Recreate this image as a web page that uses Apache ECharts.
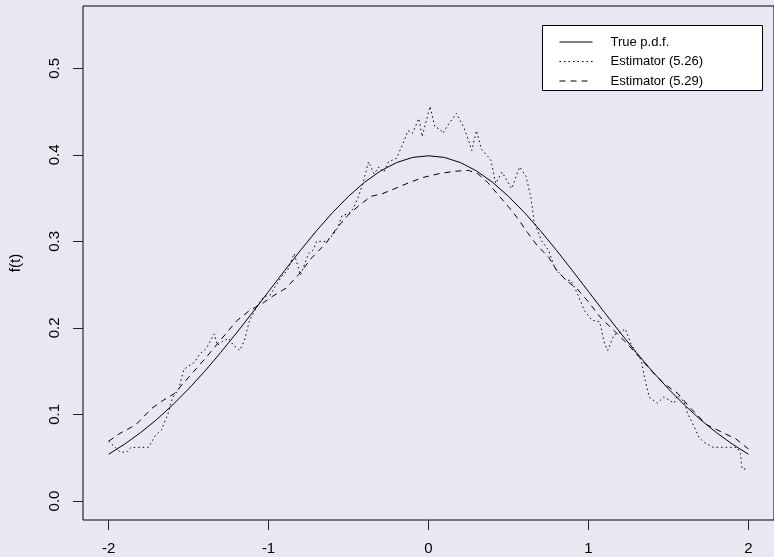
<!DOCTYPE html>
<html><head><meta charset="utf-8">
<script src="https://cdn.jsdelivr.net/npm/echarts@6/dist/echarts.min.js"></script>
<style>html,body{margin:0;padding:0;background:#e8e8f2}#c{width:774px;height:557px}</style>
</head><body><div id="c"></div>
<script>
const xTicks = [-2, -1, 0, 1, 2];
const yTicks = [0, 0.1, 0.2, 0.3, 0.4, 0.5];
const seriesNames = ['True p.d.f.', 'Estimator (5.26)', 'Estimator (5.29)'];

const tTrue = [-2.0,-1.9,-1.8,-1.7,-1.6,-1.5,-1.4,-1.3,-1.2,-1.1,-1.0,-0.9,-0.8,-0.7,-0.6,-0.5,-0.4,-0.3,-0.2,-0.1,0.0,
  0.1,0.2,0.3,0.4,0.5,0.6,0.7,0.8,0.9,1.0,1.1,1.2,1.3,1.4,1.5,1.6,1.7,1.8,1.9,2.0];
const fTrue = [0.0540,0.0656,0.0790,0.0940,0.1109,0.1295,0.1497,0.1714,0.1942,0.2179,0.2420,0.2661,0.2897,0.3123,0.3332,0.3521,0.3683,0.3814,0.3910,0.3970,0.3989,
  0.3970,0.3910,0.3814,0.3683,0.3521,0.3332,0.3123,0.2897,0.2661,0.2420,0.2179,0.1942,0.1714,0.1497,0.1295,0.1109,0.0940,0.0790,0.0656,0.0540];

const t526 = [-2.00,-1.93,-1.89,-1.86,-1.75,-1.71,-1.67,-1.63,-1.60,-1.56,-1.53,-1.49,-1.46,-1.43,-1.39,-1.34,-1.32,-1.29,-1.25,-1.22,-1.18,-1.15,-1.12,-1.07,-1.03,-0.99,
  -0.92,-0.88,-0.84,-0.80,-0.75,-0.72,-0.70,-0.64,-0.60,-0.57,-0.54,-0.50,-0.47,-0.44,-0.41,-0.375,-0.34,-0.31,-0.28,-0.25,-0.20,-0.15,-0.13,-0.10,-0.06,-0.04,0.01,
  0.04,0.07,0.09,0.12,0.175,0.22,0.25,0.27,0.30,0.33,0.39,0.42,0.46,0.52,0.57,0.61,0.64,0.66,0.705,0.75,0.79,0.82,0.86,0.89,0.93,0.975,1.02,1.07,1.10,1.12,1.16,1.20,1.23,
  1.265,1.30,1.33,1.35,1.38,1.43,1.47,1.50,1.535,1.556,1.60,1.62,1.65,1.69,1.72,1.78,1.93,1.95,1.96,2.00];
const f526 = [0.069,0.057,0.056,0.062,0.062,0.075,0.082,0.100,0.119,0.130,0.152,0.157,0.161,0.170,0.176,0.193,0.180,0.184,0.188,0.180,0.174,0.186,0.208,0.226,0.236,0.238,
  0.259,0.267,0.286,0.261,0.286,0.290,0.300,0.300,0.307,0.315,0.330,0.332,0.338,0.351,0.367,0.392,0.378,0.386,0.380,0.392,0.396,0.417,0.428,0.425,0.442,0.421,0.456,
  0.432,0.430,0.425,0.434,0.448,0.432,0.417,0.405,0.428,0.407,0.394,0.367,0.380,0.361,0.386,0.375,0.351,0.323,0.301,0.290,0.269,0.263,0.255,0.255,0.240,0.220,0.209,0.207,0.182,0.174,0.192,0.195,0.199,
  0.182,0.170,0.163,0.143,0.120,0.113,0.120,0.117,0.113,0.122,0.114,0.101,0.090,0.074,0.068,0.062,0.062,0.055,0.037,0.037];

const t529 = [-2.00,-1.93,-1.83,-1.73,-1.67,-1.59,-1.48,-1.39,-1.30,-1.20,-1.12,-1.04,-0.98,-0.89,-0.81,-0.73,-0.64,-0.57,-0.50,-0.43,-0.36,-0.29,-0.21,-0.12,-0.03,
  0.06,0.16,0.25,0.31,0.37,0.435,0.50,0.56,0.62,0.68,0.75,0.80,0.86,0.93,1.00,1.08,1.16,1.24,1.32,1.39,1.47,1.56,1.64,1.74,1.85,1.92,2.00];
const f529 = [0.069,0.078,0.088,0.107,0.115,0.124,0.147,0.166,0.186,0.208,0.220,0.228,0.236,0.246,0.262,0.281,0.298,0.316,0.331,0.342,0.352,0.355,0.361,0.368,0.374,
  0.378,0.381,0.382,0.378,0.368,0.354,0.340,0.326,0.310,0.295,0.282,0.267,0.255,0.245,0.230,0.211,0.197,0.182,0.166,0.151,0.136,0.124,0.107,0.088,0.078,0.072,0.060];

const zip = (a, b) => a.map((v, i) => [v, b[i]]);
const FONT = 'Liberation Sans, Arial, Helvetica, sans-serif';

const chart = echarts.init(document.getElementById('c'), null, {renderer: 'canvas'});
chart.setOption({
  animation: false,
  backgroundColor: '#e8e8f2',
  grid: {left: 83, top: 6, width: 694, height: 514, show: true, borderColor: '#000', borderWidth: 1, backgroundColor: 'transparent'},
  xAxis: {
    type: 'value', min: -2.16, max: 2.16,
    axisLine: {show: false, onZero: false},
    splitLine: {show: false},
    axisTick: {show: true, inside: false, length: 10, customValues: xTicks, lineStyle: {color: '#222', width: 1}},
    axisLabel: {customValues: xTicks, margin: 21, fontSize: 15, color: '#000', fontFamily: FONT, formatter: v => String(v)}
  },
  yAxis: {
    type: 'value', min: -0.022, max: 0.572,
    position: 'left',
    name: 'f(t)', nameLocation: 'middle', nameGap: 60, nameRotate: 90,
    nameTextStyle: {fontSize: 15, color: '#000', fontFamily: FONT},
    axisLine: {show: false, onZero: false},
    splitLine: {show: false},
    axisTick: {show: true, inside: false, length: 10, customValues: yTicks, lineStyle: {color: '#222', width: 1}},
    axisLabel: {customValues: yTicks, rotate: 90, margin: 21, fontSize: 15, color: '#000', fontFamily: FONT, formatter: v => v.toFixed(1)}
  },
  legend: {
    z: 10,
    orient: 'vertical', left: 559, top: 35.5,
    itemWidth: 33, itemHeight: 14, itemGap: 6.5, padding: 0,
    data: seriesNames,
    itemStyle: {opacity: 0},
    lineStyle: {width: 1},
    textStyle: {fontSize: 13, color: '#000', fontFamily: FONT, padding: [0, 0, 0, 13]}
  },
  series: [
    {name: seriesNames[0], type: 'line', data: zip(tTrue, fTrue), symbol: 'none', smooth: false,
     lineStyle: {color: '#000', width: 1, type: 'solid'}, itemStyle: {color: '#000'}},
    {name: seriesNames[1], type: 'line', data: zip(t526, f526), symbol: 'none',
     lineStyle: {color: '#000', width: 1, type: [1.5, 3]}, itemStyle: {color: '#000'}},
    {name: seriesNames[2], type: 'line', data: zip(t529, f529), symbol: 'none',
     lineStyle: {color: '#000', width: 1, type: [6, 5]}, itemStyle: {color: '#000'}}
  ]
});

// reinforce the left tick marks, positioned through the y axis scale
const gx = 83;
const tickGraphics = yTicks.map(v => {
  const y = Math.round(chart.convertToPixel({yAxisIndex: 0}, v)) + 0.5;
  return {type: 'line', z: 50, silent: true,
    shape: {x1: gx - 10, y1: y, x2: gx, y2: y},
    style: {stroke: '#222', lineWidth: 1}};
});
chart.setOption({
  graphic: [{
    type: 'rect', z: 1,
    shape: {x: 542.5, y: 25.5, width: 220, height: 65},
    style: {fill: '#fff', stroke: '#000', lineWidth: 1}
  }].concat(tickGraphics)
});
</script></body></html>
